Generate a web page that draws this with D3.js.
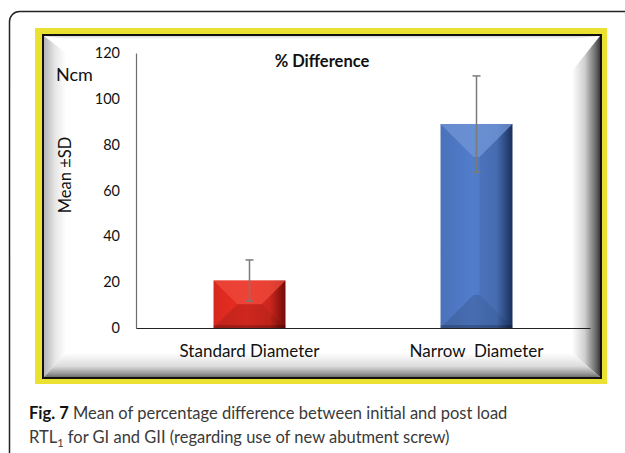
<!DOCTYPE html>
<html>
<head>
<meta charset="utf-8">
<script src="https://cdn.jsdelivr.net/npm/d3@7"></script>
<style>
  body { margin: 0; background: #fff; }
  svg { display: block; }
</style>
</head>
<body>
<div id="chart"></div>
<script>
// chart values
var categories = ["Standard Diameter", "Narrow  Diameter"];
var means = [20.7, 89];
var sds = [9, 21];
var yTicks = [0, 20, 40, 60, 80, 100, 120];
var barColors = ["#d8291f", "#4a72ba"];
var darkColors = ["#7a0d08", "#1b3260"];
var lightColors = ["#ee4a3c", "#7196d6"];

var W = 625, H = 453;
var svg = d3.select("#chart").append("svg")
    .attr("width", W).attr("height", H);
var defs = svg.append("defs");

function hGrad(id, stops, vertical) {
    var g = defs.append("linearGradient").attr("id", id)
        .attr("x1", 0).attr("y1", 0)
        .attr("x2", vertical ? 0 : 1).attr("y2", vertical ? 1 : 0);
    stops.forEach(s => g.append("stop").attr("offset", s[0]).attr("stop-color", s[1]));
}

// outer rounded frame (runs off the page at right/bottom)
svg.append("rect")
    .attr("x", 9.5).attr("y", 11.5).attr("width", 640).attr("height", 470)
    .attr("rx", 10)
    .attr("fill", "#fff").attr("stroke", "#222").attr("stroke-width", 1.5);

// yellow frame
svg.append("rect")
    .attr("x", 35).attr("y", 28).attr("width", 572).attr("height", 356)
    .attr("fill", "#ebe133");

// panel
var px0 = 43, py0 = 35, px1 = 601, py1 = 378;
svg.append("rect")
    .attr("x", px0).attr("y", py0).attr("width", px1 - px0).attr("height", py1 - py0)
    .attr("fill", "#fff").attr("stroke", "#111").attr("stroke-width", 2);

// bevel around the panel
var bl = 22, bt = 3, br = 28, bb = 24;
var ix0 = px0 + 1, iy0 = py0 + 1, ix1 = px1 - 1, iy1 = py1 - 1;
hGrad("bevL", [[0, "#b5b5b5"], [0.5, "#e6e6e6"], [1, "#ffffff"]]);
hGrad("bevR", [[0, "#ffffff"], [0.45, "#d0d0d0"], [0.85, "#6a6a6a"], [1, "#3a3a3a"]]);
hGrad("bevB", [[0, "#ffffff"], [0.55, "#dcdcdc"], [0.85, "#9a9a9a"], [1, "#707070"]], true);
hGrad("bevT", [[0, "#d8d8d8"], [1, "#ffffff"]], true);
var bev = svg.append("g");
bev.append("polygon").attr("fill", "url(#bevT)")
    .attr("points", [[ix0, iy0], [ix1, iy0], [ix1 - br, iy0 + bt], [ix0 + bl, iy0 + bt]].join(" "));
bev.append("polygon").attr("fill", "url(#bevL)")
    .attr("points", [[ix0, iy0], [ix0 + bl, iy0 + bt + 14], [ix0 + bl, iy1 - bb], [ix0, iy1]].join(" "));
bev.append("polygon").attr("fill", "url(#bevR)")
    .attr("points", [[ix1, iy0], [ix1 - br, iy0 + bt + 32], [ix1 - br, iy1 - bb], [ix1, iy1]].join(" "));
bev.append("polygon").attr("fill", "url(#bevB)")
    .attr("points", [[ix0, iy1], [ix0 + bl, iy1 - bb], [ix1 - br, iy1 - bb], [ix1, iy1]].join(" "));

// scales
var x = d3.scaleBand().domain(categories).range([136, 590])
    .paddingInner(0.683).paddingOuter(0.3415);
var y = d3.scaleLinear().domain([0, 120]).range([328, 53]);

var font = "Lato, 'Open Sans', sans-serif";

// y axis
var yAxis = svg.append("g").attr("transform", "translate(136,0)")
    .call(d3.axisLeft(y).tickValues(yTicks).tickSize(0).tickPadding(16).tickSizeOuter(0));
yAxis.select(".domain").attr("stroke", "#6e6e6e").attr("stroke-width", 1.2);
yAxis.selectAll("text").attr("font-family", font).attr("font-size", 14.5).attr("fill", "#111");

// x axis
var xAxis = svg.append("g").attr("transform", "translate(0,328)")
    .call(d3.axisBottom(x).tickSize(0).tickPadding(17).tickSizeOuter(0));
xAxis.select(".domain").attr("stroke", "#222").attr("stroke-width", 1.2);
xAxis.selectAll("text").attr("font-family", font).attr("font-size", 17)
    .attr("fill", "#111").style("white-space", "pre");

// bars with bevel
categories.forEach(function(c, i) {
    var gid = "barG" + i;
    hGrad(gid, [[0, barColors[i]], [0.45, d3.color(barColors[i]).brighter(0.25)], [0.78, barColors[i]], [1, darkColors[i]]]);
    var x0 = x(c), x1 = x(c) + x.bandwidth();
    var yt = y(means[i]), yb = y(0);
    var w = x1 - x0, h = yb - yt;
    var d = Math.min(33, h / 2, w / 2);
    var g = svg.append("g");
    g.append("rect").attr("x", x0).attr("y", yt).attr("width", w).attr("height", h)
        .attr("fill", "url(#" + gid + ")");
    g.append("polygon").attr("fill", lightColors[i]).attr("opacity", 0.75)
        .attr("points", [[x0, yt], [x1, yt], [x1 - d, yt + d], [x0 + d, yt + d]].join(" "));
    g.append("polygon").attr("fill", "#000").attr("opacity", 0.12)
        .attr("points", [[x0, yb], [x1, yb], [x1 - d, yb - d], [x0 + d, yb - d]].join(" "));
    g.append("rect").attr("x", x0).attr("y", yb - 3).attr("width", w).attr("height", 3)
        .attr("fill", "#000").attr("opacity", 0.2);
    g.append("polygon").attr("fill", "#000").attr("opacity", 0.05)
        .attr("points", [[x1, yt], [x1 - d, yt + d], [x1 - d, yb - d], [x1, yb]].join(" "));

    // error bar
    var cx = x0 + w / 2;
    var eb = svg.append("g").attr("stroke", "#7a7a7a").attr("stroke-width", 1.5);
    eb.append("line").attr("x1", cx).attr("x2", cx)
        .attr("y1", y(means[i] + sds[i])).attr("y2", y(means[i] - sds[i]));
    [means[i] + sds[i], means[i] - sds[i]].forEach(function(v) {
        eb.append("line").attr("x1", cx - 4).attr("x2", cx + 4)
            .attr("y1", y(v)).attr("y2", y(v));
    });
});

// labels
svg.append("text").attr("x", 322).attr("y", 67).attr("text-anchor", "middle")
    .attr("font-family", font).attr("font-size", 16.5).attr("font-weight", "bold")
    .attr("fill", "#111").text("% Difference");
svg.append("text").attr("x", 56).attr("y", 81)
    .attr("font-family", font).attr("font-size", 18).attr("fill", "#111").text("Ncm");
svg.append("text").attr("transform", "translate(71,175) rotate(-90)")
    .attr("text-anchor", "middle")
    .attr("font-family", font).attr("font-size", 16.5).attr("fill", "#111").text("Mean ±SD");

// caption
var cap = svg.append("text").attr("x", 29).attr("y", 419)
    .attr("font-family", font).attr("font-size", 16.5).attr("fill", "#3a3a3a");
cap.append("tspan").attr("font-weight", "bold").attr("fill", "#111").text("Fig. 7");
cap.append("tspan").text(" Mean of percentage difference between initial and post load");
var cap2 = svg.append("text").attr("x", 29).attr("y", 443)
    .attr("font-family", font).attr("font-size", 16.5).attr("fill", "#3a3a3a");
cap2.append("tspan").text("RTL");
cap2.append("tspan").attr("font-size", 11).attr("dy", 4).text("1");
cap2.append("tspan").attr("dy", -4).text(" for GI and GII (regarding use of new abutment screw)");
</script>
</body>
</html>
